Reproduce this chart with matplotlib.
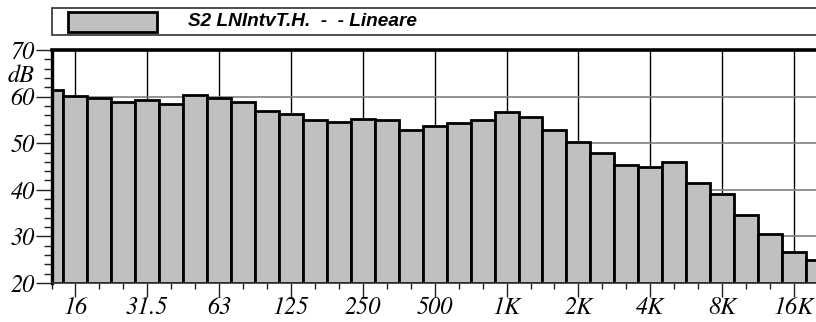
import matplotlib
matplotlib.use("Agg")
import matplotlib.pyplot as plt
from matplotlib.patches import Rectangle
from matplotlib.ticker import FixedLocator, MultipleLocator

# Third-octave band centres (Hz) and levels (dB)
bands = ["12.5", "16", "20", "25", "31.5", "40", "50", "63", "80", "100",
         "125", "160", "200", "250", "315", "400", "500", "630", "800", "1K",
         "1.25K", "1.6K", "2K", "2.5K", "3.15K", "4K", "5K", "6.3K", "8K", "10K",
         "12.5K", "16K", "20K"]
levels = [61.4, 60.2, 59.8, 58.9, 59.2, 58.4, 60.3, 59.6, 58.8, 57.0,
          56.3, 55.0, 54.5, 55.3, 54.9, 52.9, 53.7, 54.3, 55.0, 56.8,
          55.6, 52.8, 50.2, 47.9, 45.4, 44.8, 45.9, 41.5, 39.2, 34.6,
          30.5, 26.7, 25.0]
tick_labels = ["16", "31.5", "63", "125", "250", "500", "1K", "2K", "4K", "8K", "16K"]
series_label = "S2 LNIntvT.H.  -  - Lineare"

plt.rcParams["font.family"] = ["STIXGeneral", "Liberation Serif", "DejaVu Serif"]
plt.rcParams["font.style"] = "italic"
plt.rcParams["font.size"] = 17.5

W, H = 816, 322
fig = plt.figure(figsize=(W / 100, H / 100), dpi=100)
ax_left, ax_right = 51.5, 816.0
ax_top, ax_bot = 50.0, 283.0
ax = fig.add_axes([ax_left / W, (H - ax_bot) / H, (ax_right - ax_left) / W, (ax_bot - ax_top) / H])

x = list(range(len(bands)))
ax.bar(x, [v - 20 for v in levels], bottom=20, width=1.0, color="#c0c0c0",
       edgecolor="black", linewidth=2.0, zorder=3)

ax.set_xlim(0, 31.92)
ax.set_ylim(20, 70)

major_x = [bands.index(t) for t in tick_labels]
ax.xaxis.set_major_locator(FixedLocator(major_x))
ax.set_xticklabels(tick_labels)
ax.xaxis.set_minor_locator(FixedLocator(x))
ax.yaxis.set_major_locator(MultipleLocator(10))
ax.yaxis.set_minor_locator(MultipleLocator(2))

ax.tick_params(axis="both", which="major", labelsize=17.5)
ax.tick_params(axis="x", which="major", length=10, width=1, color="#202020", pad=0)
ax.tick_params(axis="x", which="minor", length=4.3, width=1, color="#202020")
ax.tick_params(axis="y", which="major", length=11.5, width=1, color="#202020", pad=0.5)
ax.tick_params(axis="y", which="minor", length=5.8, width=1, color="#202020")

# grid
for xi in major_x:
    ax.axvline(xi, color="black", linewidth=1.0, zorder=1)
for yv in [30, 40, 50, 60]:
    ax.axhline(yv, color="#808080", linewidth=1.2, zorder=1)

ax.spines["right"].set_visible(False)
ax.spines["top"].set_linewidth(2.6)
ax.spines["top"].set_color("black")
ax.spines["left"].set_linewidth(2.4)
ax.spines["left"].set_color("black")
ax.spines["bottom"].set_linewidth(1.2)
ax.spines["bottom"].set_color("#303030")
for s in ax.spines.values():
    s.set_zorder(5)

ax.annotate("dB", xy=(0, 64.5), xycoords=("axes fraction", "data"),
            xytext=(-12, 0), textcoords="offset points", ha="right", va="center",
            fontsize=17.5)

# legend box
def fx(px):
    return px / W

def fy(py):
    return 1 - py / H

fig.patches.append(Rectangle((fx(51.7), fy(35)), fx(830) - fx(51.7), fy(8.3) - fy(35),
                             transform=fig.transFigure, facecolor="white",
                             edgecolor="#404040", linewidth=1.3))
fig.patches.append(Rectangle((fx(67.5), fy(32.3)), fx(157.3) - fx(67.5), fy(12) - fy(32.3),
                             transform=fig.transFigure, facecolor="#c0c0c0",
                             edgecolor="black", linewidth=2.0))
fig.text(fx(188), fy(21.0), series_label, ha="left", va="center",
         family=["Liberation Sans", "DejaVu Sans"], weight="bold", style="italic",
         fontsize=13.7)

fig.savefig("out.png", dpi=100)
